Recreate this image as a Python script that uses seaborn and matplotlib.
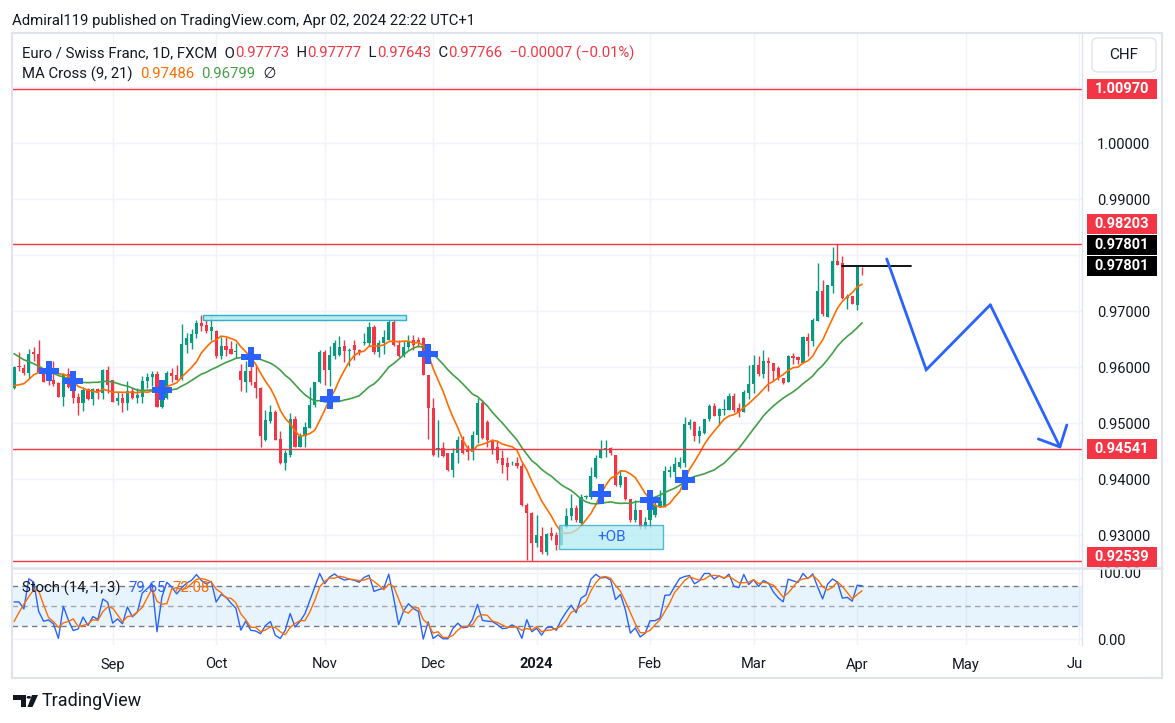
import numpy as np
import pandas as pd
import matplotlib
matplotlib.use("Agg")
import matplotlib.pyplot as plt
from matplotlib.patches import Rectangle, Polygon, Circle, FancyBboxPatch
from matplotlib.lines import Line2D
import seaborn as sns

# EUR/CHF daily candles (FXCM): 4 Aug 2023 .. 2 Apr 2024
start_date = "2023-08-04"

opens = [
    .9562, .9602, .9599, .9590, .9626, .9623, .9590, .9577, .9577, .9571,
    .9547, .9588, .9589, .9546, .9535, .9560, .9542, .9560, .9554, .9595,
    .9577, .9540, .9544, .9535, .9557, .9544, .9547, .9575, .9582, .9588,
    .9529, .9544, .9590, .9586, .9578, .9640, .9642, .9659, .9679, .9675,
    .9664, .9664, .9619, .9638, .9633, .9626, .9592, .9574, .9593, .9574,
    .9562, .9470, .9504, .9519, .9471, .9428, .9443, .9507, .9458, .9476,
    .9491, .9533, .9573, .9626, .9594, .9620, .9622, .9638, .9629, .9640,
    .9630, .9642, .9642, .9672, .9627, .9642, .9649, .9681, .9639, .9619,
    .9636, .9648, .9648, .9651, .9586, .9526, .9452, .9455, .9446, .9416,
    .9446, .9470, .9452, .9449, .9479, .9536, .9502, .9470, .9458, .9437,
    .9428, .9428, .9428, .9423, .9354, .9340, .9285, .9298, .9270, .9303,
    .9300, .9282, .9315, .9334, .9348, .9321, .9367, .9368, .9404, .9438,
    .9451, .9455, .9443, .9389, .9404, .9364, .9326, .9345, .9315, .9327,
    .9336, .9350, .9350, .9413, .9413, .9421, .9428, .9497, .9501, .9476,
    .9483, .9507, .9531, .9513, .9523, .9523, .9549, .9526, .9520, .9554,
    .9570, .9604, .9588, .9611, .9607, .9598, .9580, .9573, .9619, .9617,
    .9608, .9653, .9647, .9683, .9735, .9690, .9745, .9789, .9785, .9723,
    .9726, .9711, .97773,
]
highs = [
    .9602, .9627, .9606, .9632, .9636, .9648, .9599, .9585, .9611, .9574,
    .9590, .9599, .9592, .9553, .9564, .9562, .9562, .9562, .9596, .9602,
    .9577, .9556, .9553, .9575, .9562, .9562, .9584, .9590, .9593, .9592,
    .9572, .9592, .9598, .9604, .9677, .9660, .9667, .9684, .9693, .9684,
    .9693, .9666, .9653, .9654, .9647, .9642, .9606, .9610, .9616, .9603,
    .9564, .9523, .9532, .9523, .9486, .9452, .9517, .9512, .9482, .9501,
    .9564, .9574, .9630, .9630, .9637, .9648, .9655, .9648, .9634, .9648,
    .9632, .9660, .9681, .9675, .9648, .9666, .9684, .9684, .9648, .9646,
    .9657, .9658, .9653, .9653, .9586, .9545, .9505, .9466, .9446, .9455,
    .9476, .9476, .9461, .9485, .9544, .9541, .9505, .9471, .9467, .9452,
    .9440, .9432, .9440, .9428, .9357, .9341, .9336, .9315, .9303, .9315,
    .9306, .9318, .9348, .9373, .9354, .9374, .9372, .9422, .9443, .9470,
    .9470, .9458, .9443, .9416, .9404, .9364, .9363, .9345, .9333, .9360,
    .9366, .9380, .9423, .9423, .9440, .9440, .9510, .9508, .9504, .9494,
    .9508, .9534, .9535, .9527, .9542, .9554, .9553, .9536, .9559, .9603,
    .9621, .9619, .9631, .9618, .9608, .9601, .9580, .9622, .9625, .9620,
    .9655, .9660, .9687, .9786, .9755, .9746, .9814, .9819, .9798, .9730,
    .9726, .9778, .97777,
]
lows = [
    .9560, .9592, .9586, .9581, .9610, .9589, .9574, .9567, .9566, .9546,
    .9530, .9562, .9536, .9515, .9522, .9541, .9533, .9542, .9542, .9554,
    .9538, .9532, .9520, .9523, .9542, .9535, .9536, .9562, .9566, .9529,
    .9526, .9543, .9574, .9576, .9577, .9625, .9633, .9651, .9665, .9660,
    .9648, .9616, .9614, .9619, .9623, .9616, .9558, .9556, .9568, .9544,
    .9457, .9467, .9500, .9470, .9427, .9416, .9440, .9457, .9457, .9457,
    .9491, .9529, .9571, .9568, .9566, .9614, .9619, .9609, .9601, .9612,
    .9622, .9639, .9638, .9624, .9618, .9624, .9648, .9638, .9617, .9618,
    .9633, .9630, .9636, .9586, .9471, .9441, .9440, .9440, .9415, .9403,
    .9428, .9445, .9434, .9434, .9464, .9471, .9458, .9445, .9429, .9410,
    .9398, .9425, .9420, .9352, .9256, .9253, .9279, .9266, .9264, .9291,
    .9273, .9282, .9312, .9327, .9324, .9320, .9364, .9365, .9401, .9437,
    .9440, .9443, .9388, .9386, .9363, .9324, .9324, .9310, .9310, .9315,
    .9333, .9350, .9350, .9404, .9404, .9419, .9421, .9489, .9467, .9464,
    .9481, .9504, .9513, .9497, .9514, .9523, .9520, .9511, .9519, .9542,
    .9554, .9584, .9580, .9557, .9577, .9577, .9570, .9573, .9606, .9605,
    .9607, .9620, .9637, .9682, .9691, .9689, .9732, .9782, .9722, .9704,
    .9713, .9702, .97643,
]
closes = [
    .9600, .9600, .9590, .9624, .9623, .9589, .9574, .9576, .9570, .9547,
    .9588, .9564, .9545, .9535, .9559, .9542, .9560, .9554, .9595, .9568,
    .9538, .9544, .9535, .9557, .9544, .9550, .9575, .9582, .9588, .9529,
    .9572, .9590, .9584, .9577, .9641, .9652, .9659, .9679, .9673, .9664,
    .9671, .9619, .9638, .9631, .9624, .9629, .9576, .9593, .9574, .9562,
    .9476, .9505, .9519, .9470, .9429, .9447, .9507, .9458, .9476, .9492,
    .9532, .9573, .9627, .9594, .9622, .9643, .9636, .9628, .9631, .9630,
    .9626, .9645, .9672, .9627, .9642, .9654, .9681, .9639, .9619, .9636,
    .9645, .9639, .9642, .9586, .9526, .9443, .9455, .9441, .9416, .9447,
    .9470, .9446, .9449, .9479, .9536, .9473, .9470, .9451, .9434, .9425,
    .9422, .9429, .9423, .9354, .9340, .9285, .9300, .9270, .9302, .9298,
    .9282, .9315, .9334, .9348, .9327, .9368, .9369, .9405, .9438, .9453,
    .9455, .9447, .9390, .9405, .9364, .9326, .9345, .9315, .9324, .9354,
    .9354, .9360, .9415, .9416, .9427, .9431, .9498, .9501, .9476, .9485,
    .9507, .9531, .9513, .9525, .9525, .9549, .9523, .9520, .9555, .9570,
    .9604, .9588, .9611, .9607, .9592, .9580, .9572, .9619, .9616, .9613,
    .9653, .9647, .9684, .9735, .9695, .9746, .9789, .9783, .9723, .9726,
    .9713, .9778, .97766,
]

# July closes left of the visible window, only so MA(9/21) and Stoch start filled
warmup_closes = [.9714, .9704, .9694, .9699, .9684, .9679, .9674, .9637, .9627, .9642,
                 .9632, .9612, .9587, .9572, .9557, .9547, .9552, .9562, .9567, .9557]

# legend values as printed on the chart
ma_fast_last, ma_slow_last = "0.97486", "0.96799"
stoch_k_last, stoch_d_last = "79.65", "72.08"

level_prices = [1.00970, 0.98203, 0.94541, 0.92539]
ray_price = 0.97801
ray_bars = [168, 182]
price_ticks = [0.93, 0.94, 0.95, 0.96, 0.97, 0.98, 0.99, 1.00, 1.01]
month_starts = ["2023-09-01", "2023-10-01", "2023-11-01", "2023-12-01", "2024-01-01",
                "2024-02-01", "2024-03-01", "2024-04-01", "2024-05-01", "2024-06-01"]
month_labels = ["Sep", "Oct", "Nov", "Dec", "2024", "Feb", "Mar", "Apr", "May", "Jun"]

# hand drawings on the chart (bar number, price)
top_zone_bars = [38.3, 79.4]
top_zone_prices = [0.96839, 0.96929]
ob_bars = [110.6, 131.7]
ob_prices = [0.92745, 0.93179]
arrow_bars = [177, 185, 198, 212.3]
arrow_prices = [0.9793, 0.9595, 0.9711, 0.9454]

UP, DN = "#089981", "#F23645"
TXT = "#131722"
GRID = "#F0F3FA"
BORDER = "#E0E3EB"

sns.set_theme(style="white")
plt.rcParams["font.family"] = ["Roboto", "DejaVu Sans"]

W, H = 1175, 723
fig = plt.figure(figsize=(W / 100, H / 100), dpi=100)


def fx(x):
    return x / W


def fy(y):
    return 1 - y / H


ax = fig.add_axes([fx(12), fy(567), (1082 - 12) / W, (567 - 33) / H])
ax2 = fig.add_axes([fx(12), fy(645), (1082 - 12) / W, (645 - 568) / H], sharex=ax)

o = np.array(opens)
h = np.array(highs)
l = np.array(lows)
c = np.array(closes)
n = len(c)
x = np.arange(n)
nw = len(warmup_closes)

# indicators
all_c = pd.Series(warmup_closes + closes)
all_h = pd.Series(warmup_closes + highs)
all_l = pd.Series(warmup_closes + lows)
ma9 = all_c.rolling(9).mean().to_numpy()
ma21 = all_c.rolling(21).mean().to_numpy()
hh = all_h.rolling(14).max()
ll = all_l.rolling(14).min()
k = (100 * (all_c - ll) / (hh - ll)).to_numpy()
d = pd.Series(k).rolling(3).mean().to_numpy()

diff = np.sign(ma9 - ma21)
cross = [i - nw for i in range(nw + 1, nw + n) if diff[i] != diff[i - 1]]

# ---- price pane ----
cols = np.where(c >= o, UP, DN)
ax.vlines(x, l, h, colors=cols, lw=1, zorder=2)
ax.bar(x, np.maximum(np.abs(c - o), 0.00005), bottom=np.minimum(o, c), width=0.64,
       color=cols, lw=0, zorder=3)

sns.lineplot(x=x, y=ma9[nw:], ax=ax, color="#FF6D00", lw=1.2, zorder=4)
sns.lineplot(x=x, y=ma21[nw:], ax=ax, color="#43A047", lw=1.2, zorder=4)
sns.scatterplot(x=cross, y=ma9[nw:][cross], ax=ax, marker="P", s=190, color="#2962FF",
                linewidth=0, zorder=6)

for p in level_prices:
    ax.axhline(p, color=DN, lw=1, zorder=5)
ax.plot(ray_bars, [ray_price, ray_price], color="black", lw=1.3, zorder=5)

ax.add_patch(Rectangle((top_zone_bars[0], top_zone_prices[0]), top_zone_bars[1] - top_zone_bars[0],
                       top_zone_prices[1] - top_zone_prices[0], fc="#B2EBF2", ec="#22A5C3",
                       lw=1, alpha=0.9, zorder=5))
ax.add_patch(Rectangle((ob_bars[0], ob_prices[0]), ob_bars[1] - ob_bars[0],
                       ob_prices[1] - ob_prices[0], fc="#B2EBF2", ec="#22A5C3",
                       lw=1, alpha=0.75, zorder=5))
ax.text(np.mean(ob_bars), np.mean(ob_prices), "+OB", color="#2962FF", fontsize=11,
        ha="center", va="center", zorder=6)

ax.plot(arrow_bars[:-1], arrow_prices[:-1], color="#2962FF", lw=2, zorder=6,
        solid_joinstyle="miter")
ax.annotate("", xy=(arrow_bars[-1], arrow_prices[-1]), xytext=(arrow_bars[-2], arrow_prices[-2]),
            arrowprops=dict(arrowstyle="->,head_length=1.0,head_width=0.95", color="#2962FF",
                            lw=2, shrinkA=0, shrinkB=0), zorder=6)

month_pos = np.busday_count(np.datetime64(start_date),
                            np.array(month_starts, dtype="datetime64[D]"))

ax.set_xlim(-0.41, 216.6)
ax.set_ylim(0.924286, 1.019643)

# price tags on the right scale, stacked upwards where they would collide
tags = [(1.00970, DN), (0.98203, DN), (ray_price, "black"), (ray_price, "black"),
        (0.94541, DN), (0.92539, DN)]
tag_y = [H - ax.transData.transform((0, p))[1] for p, _ in tags]
prev = 567 - 10 + 21
placed = []
for y0 in reversed(tag_y):
    y0 = min(y0, prev - 21)
    placed.append(y0)
    prev = y0
placed = placed[::-1]

tick_px = [H - ax.transData.transform((0, p))[1] for p in price_ticks]
tick_lab = ["" if min(abs(t - yc) for yc in placed) < 16 else f"{p:.5f}"
            for p, t in zip(price_ticks, tick_px)]

ax.set_yticks(price_ticks)
ax.set_yticklabels(tick_lab)
ax.yaxis.tick_right()
ax.tick_params(axis="y", length=0, pad=11, labelsize=10.5, labelcolor=TXT)
ax.tick_params(axis="x", length=0, labelbottom=False)
ax.set_xticks(month_pos)
ax.grid(True, color=GRID, lw=1)
ax.set_axisbelow(True)
ax.set_xlabel("")
ax.set_ylabel("")

# ---- stochastic pane ----
ax2.axhspan(20, 80, color="#2196F3", alpha=0.1, lw=0)
for lvl, col in [(80, "#787B86"), (50, "#A3A6AF"), (20, "#787B86")]:
    ax2.axhline(lvl, color=col, lw=1, ls=(0, (4, 3)))
sns.lineplot(x=x, y=k[nw:], ax=ax2, color="#2962FF", lw=1, zorder=4)
sns.lineplot(x=x, y=d[nw:], ax=ax2, color="#FF6D00", lw=1, zorder=4)
ax2.set_ylim(-9.0, 106.8)
ax2.set_yticks([0, 100])
ax2.set_yticklabels(["0.00", "100.00"])
ax2.yaxis.tick_right()
ax2.tick_params(axis="y", length=0, pad=11, labelsize=10.5, labelcolor=TXT)
ax2.set_xticks(month_pos)
ax2.set_xticklabels(month_labels)
ax2.tick_params(axis="x", length=0, pad=9, labelsize=10.5, labelcolor=TXT)
for lab in ax2.get_xticklabels():
    if lab.get_text() == "2024":
        lab.set_fontweight("bold")
ax2.grid(True, color=GRID, lw=1)
ax2.set_axisbelow(True)
ax2.set_xlabel("")
ax2.set_ylabel("")
ax2.set_xlim(-0.41, 216.6)

for a in (ax, ax2):
    for s in a.spines.values():
        s.set_visible(False)

# ---- frame, separators ----
fig.patches.append(Rectangle((fx(12), fy(678)), (1162 - 12) / W, (678 - 33) / H, fill=False,
                             ec=BORDER, lw=1.5, transform=fig.transFigure, zorder=8))
fig.patches.append(Rectangle((fx(1082.6), fy(677)), (1161 - 1082.6) / W, (677 - 646) / H,
                             fc="white", ec="none", transform=fig.transFigure, zorder=5))
fig.lines.append(Line2D([fx(12), fx(1162)], [fy(567.5), fy(567.5)], color=BORDER, lw=1.8,
                        transform=fig.transFigure, zorder=8))
fig.lines.append(Line2D([fx(1082), fx(1082)], [fy(33), fy(645)], color=BORDER, lw=1,
                        transform=fig.transFigure, zorder=8))

for (p, col), yc in zip(tags, placed):
    fig.patches.append(Rectangle((fx(1087), fy(yc + 10)), 70 / W, 20 / H, fc=col, ec="none",
                                 transform=fig.transFigure, zorder=9))
    fig.text(fx(1122), fy(yc), f"{p:.5f}", color="white", fontsize=10.5, fontweight="semibold",
             ha="center", va="center", zorder=10)

fig.patches.append(FancyBboxPatch((fx(1092), fy(72)), 64 / W, 34 / H,
                                  boxstyle="round,pad=0,rounding_size=0.006", fc="white",
                                  ec=BORDER, lw=1, transform=fig.transFigure, zorder=9))
fig.text(fx(1124), fy(55), "CHF", color=TXT, fontsize=11, ha="center", va="center", zorder=10)

# ---- header texts ----
renderer = fig.canvas.get_renderer()


def runs(x0, y0, parts, size):
    for s, col in parts:
        t = fig.text(fx(x0), fy(y0), s, color=col, fontsize=size, ha="left", va="center")
        x0 += t.get_window_extent(renderer).width


runs(12, 21, [("Admiral119 published on TradingView.com, Apr 02, 2024 22:22 UTC+1", TXT)], 10.75)
runs(22, 53, [("Euro / Swiss Franc, 1D, FXCM  O", TXT), ("0.97773", DN), ("  H", TXT),
              ("0.97777", DN), ("  L", TXT), ("0.97643", DN), ("  C", TXT), ("0.97766", DN),
              ("  \u22120.00007 (\u22120.01%)", DN)], 10.75)
runs(22, 74, [("MA Cross (9, 21)  ", TXT), (ma_fast_last, "#FF6D00"), ("  ", TXT),
              (ma_slow_last, "#43A047"), ("  \u2205", TXT)], 10.75)
runs(22, 588, [("Stoch (14, 1, 3)  ", TXT), (stoch_k_last, "#2962FF"), ("  ", TXT),
               (stoch_d_last, "#FF6D00")], 10.75)

# TradingView logo + wordmark
fig.patches.append(Polygon([(fx(13), fy(695)), (fx(26), fy(695)), (fx(26), fy(707)),
                            (fx(20.5), fy(707)), (fx(20.5), fy(699.5)), (fx(13), fy(699.5))],
                           closed=True, fc=TXT, ec="none", transform=fig.transFigure))
fig.patches.append(Circle((fx(28.8), fy(697.3)), 2.2 / W, fc=TXT, ec="none",
                          transform=fig.transFigure))
fig.patches.append(Polygon([(fx(32), fy(695)), (fx(38), fy(695)), (fx(32.5), fy(707)),
                            (fx(27.5), fy(707))], closed=True, fc=TXT, ec="none",
                           transform=fig.transFigure))
fig.text(fx(42), fy(701), "TradingView", color=TXT, fontsize=13, ha="left", va="center")

fig.savefig("out.png", dpi=100)
